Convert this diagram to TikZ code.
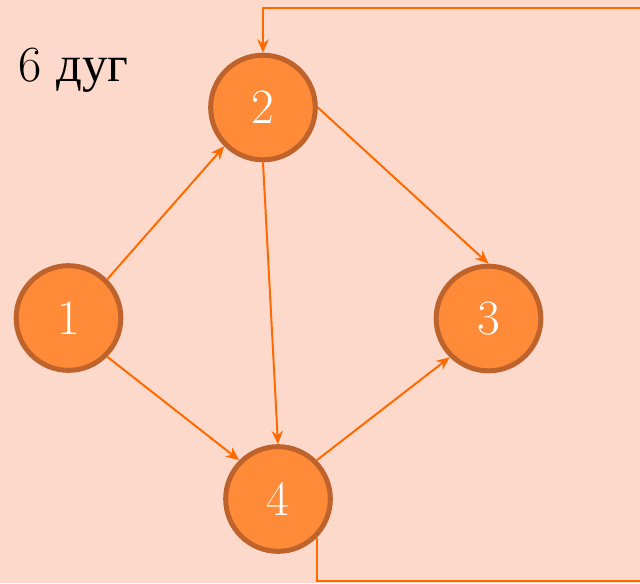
\documentclass[tikz,border=0pt]{standalone}
\usepackage{fontspec}
\newfontfamily\cyrfont{Liberation Serif}
\usetikzlibrary{arrows.meta}
\definecolor{bgc}{HTML}{FDD9CC}
\definecolor{nodefill}{HTML}{FF8B38}
\definecolor{nodeborder}{HTML}{BF632C}
\definecolor{edgec}{HTML}{FF6A00}
\tikzset{
  vert/.style={circle, fill=nodefill, draw=nodeborder, line width=3.75pt,
    minimum size=78.5pt, inner sep=0pt, text=white, font=\fontsize{37}{42}\selectfont},
  edge/.style={draw=edgec, line width=1.5pt, -{Stealth[length=10pt,width=8.5pt]}}
}
\begin{document}
\begin{tikzpicture}[x=0.75pt,y=-0.75pt]
\fill[bgc] (0,0) rectangle (640,583);
\useasboundingbox (0,0) rectangle (640,583);
\node[anchor=base west, inner sep=0pt, font=\fontsize{38}{42}\selectfont] (lbl) at (18,81) {6 {\cyrfont дуг}};
\node[vert] (n1) at (68.5,318) {1};
\node[vert] (n2) at (263,107.5) {2};
\node[vert] (n3) at (488.5,318.5) {3};
\node[vert] (n4) at (278,499) {4};
\coordinate (c1) at (660,581);
\coordinate (c2) at (660,8);
\draw[edge] (n1.45) -- (n2.225);
\draw[edge] (n1.-45) -- (n4.135);
\draw[edge] (n2.east) -- (n3.north);
\draw[edge] (n2.south) -- (n4.north);
\draw[edge] (n4.45) -- (n3.225);
\draw[edge] (n4.-45) |- (c1) -- (c2) -| (n2.north);
\end{tikzpicture}
\end{document}
